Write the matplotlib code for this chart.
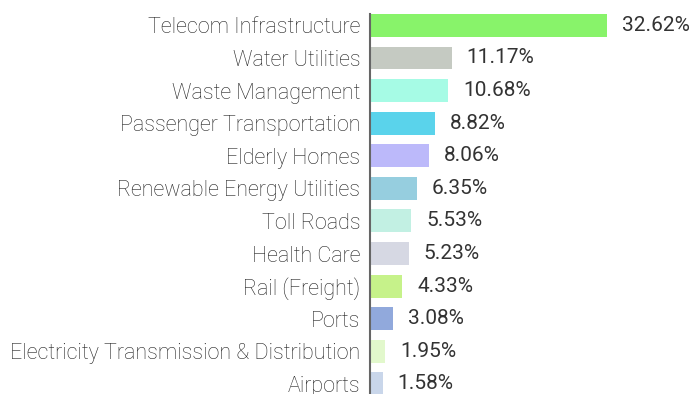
import matplotlib
matplotlib.use("Agg")
import matplotlib.pyplot as plt

categories = [
    "Telecom Infrastructure",
    "Water Utilities",
    "Waste Management",
    "Passenger Transportation",
    "Elderly Homes",
    "Renewable Energy Utilities",
    "Toll Roads",
    "Health Care",
    "Rail (Freight)",
    "Ports",
    "Electricity Transmission & Distribution",
    "Airports",
]
values = [32.62, 11.17, 10.68, 8.82, 8.06, 6.35, 5.53, 5.23, 4.33, 3.08, 1.95, 1.58]
colors = [
    "#88F36A", "#C5CAC2", "#A6FBE5", "#5AD3EB", "#BCB9FA", "#96CEDF",
    "#C2F0E3", "#D6D8E3", "#C6F28A", "#91A9DC", "#E2F8CC", "#C9D6EA",
]

fig = plt.figure(figsize=(6.95, 3.94), dpi=100)
ax = fig.add_axes([370 / 695, 0, 1 - 370 / 695, 380 / 394])

ypos = list(range(len(categories)))
ax.barh(ypos, values, height=0.705, color=colors, left=0.15)

ax.set_xlim(0, 325 / 7.24)
ax.set_ylim(11.31, -0.35)

for y, v in zip(ypos, values):
    ax.text(v + 2.2, y, f"{v:.2f}%", va="center", ha="left",
            fontsize=15, family="Roboto", color="#333333")

ax.set_yticks(ypos)
ax.set_yticklabels(categories, fontsize=15.5, family="Roboto",
                   fontweight="light", color="#222222")
ax.tick_params(axis="y", length=0, pad=7)
ax.set_xticks([])

for side in ["top", "right", "bottom"]:
    ax.spines[side].set_visible(False)
ax.spines["left"].set_color("#666666")
ax.spines["left"].set_linewidth(1.5)

fig.savefig("out.png", dpi=100)
